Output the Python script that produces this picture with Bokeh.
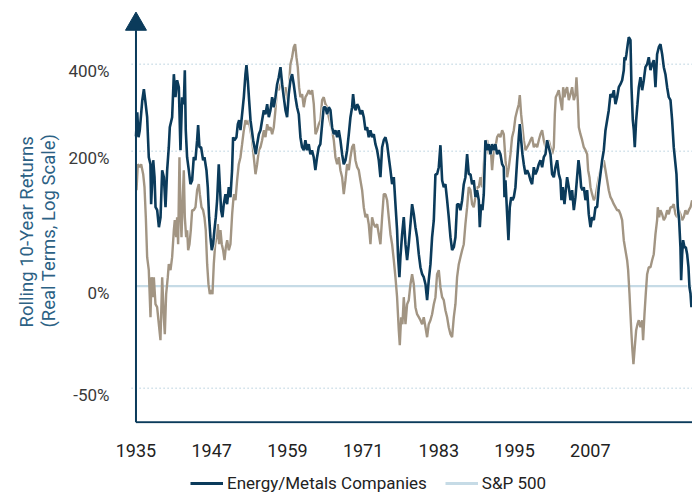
from bokeh.plotting import figure
from bokeh.layouts import column
from bokeh.models import FixedTicker, Legend, LegendItem, Title
from bokeh.embed import file_html
from bokeh.resources import INLINE

# ---- data: (year, position on the chart's log-return scale; 0 = 0% line) ----
energy_metals = [
    (1935.0,150),(1935.2,174),(1935.4,149),(1935.6,156),(1936.0,186),(1936.25,197),(1936.5,184),(1936.77,169),
    (1937.03,129),(1937.29,122),(1937.4,82),(1937.73,126),(1937.94,109),(1938.1,79),(1938.36,76),(1938.63,59),
    (1938.89,69),(1939.15,116),(1939.42,109),(1939.68,79),(1939.94,116),(1940.2,139),(1940.36,159),(1940.73,169),
    (1941.0,212),(1941.26,189),(1941.52,206),(1941.79,199),(1942.05,136),(1942.31,189),(1942.58,182),(1942.74,216),
    (1942.89,156),(1943.1,129),(1943.37,116),(1943.63,102),(1943.9,106),(1944.16,129),(1944.42,126),(1944.69,146),
    (1944.85,161),(1945.06,139),(1945.32,139),(1945.64,126),(1945.85,129),(1946.17,116),(1946.38,99),(1946.59,69),
    (1946.8,49),(1947.01,36),(1947.22,42),(1947.43,56),(1947.65,69),(1947.86,86),(1948.12,122),(1948.28,102),
    (1948.49,76),(1948.7,69),(1948.91,82),(1949.18,92),(1949.44,82),(1949.71,99),(1949.97,89),(1950.23,116),
    (1950.39,149),(1950.6,146),(1950.92,149),(1951.14,162),(1951.35,166),(1951.56,156),(1951.82,172),(1952.09,189),
    (1952.35,212),(1952.51,221),(1952.72,206),(1952.93,186),(1953.15,166),(1953.36,156),(1953.57,146),(1953.78,139),
    (1953.99,132),(1954.2,142),(1954.47,152),(1954.73,156),(1954.99,166),(1955.26,176),(1955.52,172),(1955.79,182),
    (1956.05,169),(1956.31,176),(1956.58,189),(1956.84,179),(1957.1,189),(1957.37,202),(1957.63,209),(1957.9,219),
    (1958.16,202),(1958.42,189),(1958.69,176),(1958.95,169),(1959.21,192),(1959.48,206),(1959.74,212),(1960.0,202),
    (1960.27,189),(1960.53,179),(1960.8,172),(1961.06,149),(1961.32,139),(1961.59,136),(1961.85,146),(1962.11,136),
    (1962.38,142),(1962.64,132),(1962.9,136),(1963.17,129),(1963.43,116),(1963.7,129),(1963.96,139),(1964.22,142),
    (1964.5,162),(1964.76,179),(1965.03,179),(1965.29,172),(1965.56,179),(1965.82,176),(1966.08,159),(1966.35,152),
    (1966.61,156),(1966.88,149),(1967.14,156),(1967.4,146),(1967.67,132),(1967.93,122),(1968.2,126),(1968.46,136),
    (1968.73,152),(1968.99,169),(1969.25,179),(1969.41,192),(1969.62,179),(1969.83,176),(1970.05,182),(1970.31,179),
    (1970.57,172),(1970.84,176),(1971.1,169),(1971.37,156),(1971.63,159),(1971.89,149),(1972.16,156),(1972.42,149),
    (1972.69,152),(1972.95,142),(1973.22,136),(1973.48,126),(1973.74,109),(1974.01,139),(1974.27,146),(1974.54,149),
    (1974.8,142),(1975.06,129),(1975.33,116),(1975.59,102),(1975.86,109),(1976.12,82),(1976.38,56),(1976.54,29),
    (1976.75,9),(1976.91,29),(1977.18,52),(1977.44,69),(1977.71,42),(1977.97,26),(1978.23,42),(1978.5,62),
    (1978.76,82),(1979.03,72),(1979.29,59),(1979.55,49),(1979.82,32),(1980.08,19),(1980.35,12),(1980.61,9),
    (1980.88,2),(1981.14,-14),(1981.4,6),(1981.67,22),(1981.93,49),(1982.2,66),(1982.46,112),(1982.72,112),
    (1982.99,119),(1983.25,141),(1983.52,106),(1983.78,99),(1984.04,102),(1984.31,86),(1984.57,69),(1984.84,49),
    (1985.1,36),(1985.37,39),(1985.63,49),(1985.89,82),(1986.16,82),(1986.42,76),(1986.69,86),(1986.95,102),
    (1987.21,109),(1987.48,132),(1987.74,112),(1988.01,112),(1988.27,102),(1988.53,106),(1988.8,89),(1989.06,96),
    (1989.33,86),(1989.49,59),(1989.7,82),(1989.91,76),(1990.12,92),(1990.38,146),(1990.65,136),(1990.91,142),
    (1991.18,132),(1991.44,142),(1991.7,136),(1991.97,142),(1992.23,132),(1992.5,136),(1992.76,132),(1993.03,122),
    (1993.29,119),(1993.4,89),(1993.56,106),(1993.82,72),(1994.03,46),(1994.24,79),(1994.46,89),(1994.67,86),
    (1994.88,89),(1995.14,99),(1995.41,126),(1995.67,149),(1995.83,162),(1996.04,146),(1996.25,132),(1996.46,122),
    (1996.73,112),(1996.99,116),(1997.26,112),(1997.52,106),(1997.78,102),(1998.05,119),(1998.31,112),(1998.58,116),
    (1998.84,122),(1999.1,126),(1999.37,119),(1999.63,129),(1999.9,132),(2000.16,146),(2000.42,139),(2000.69,132),
    (2000.95,112),(2001.22,109),(2001.48,119),(2001.75,126),(2002.01,112),(2002.27,106),(2002.43,86),(2002.64,99),
    (2002.91,82),(2003.12,96),(2003.33,109),(2003.59,99),(2003.86,86),(2004.12,96),(2004.39,76),(2004.65,89),
    (2004.91,109),(2005.13,126),(2005.34,116),(2005.55,99),(2005.76,96),(2005.97,99),(2006.24,86),(2006.5,96),
    (2006.76,72),(2007.03,59),(2007.29,69),(2007.56,66),(2007.82,79),(2008.08,79),(2008.35,99),(2008.61,112),
    (2008.88,126),(2009.14,136),(2009.41,156),(2009.67,166),(2009.93,176),(2010.2,192),(2010.46,189),(2010.73,196),
    (2010.99,182),(2011.25,189),(2011.52,199),(2011.78,202),(2012.05,206),(2012.31,216),(2012.42,229),(2012.57,226),
    (2012.73,232),(2012.94,242),(2013.1,249),(2013.37,246),(2013.53,199),(2013.74,166),(2013.9,156),(2014.05,139),
    (2014.27,166),(2014.48,182),(2014.69,199),(2014.95,209),(2015.22,196),(2015.48,206),(2015.74,219),(2016.01,222),
    (2016.27,229),(2016.54,216),(2016.8,222),(2017.06,226),(2017.33,199),(2017.59,232),(2017.86,239),(2018.12,242),
    (2018.39,232),(2018.65,219),(2018.91,212),(2019.18,199),(2019.44,189),(2019.71,186),(2019.97,166),(2020.23,139),
    (2020.5,122),(2020.66,112),(2020.87,79),(2021.08,66),(2021.29,39),(2021.4,6),(2021.56,32),(2021.71,46),
    (2021.93,39),(2022.14,39),(2022.35,32),(2022.56,19),(2022.72,-1),(2022.88,-7),(2023.03,-21),
]

sp500 = [
    (1935.08,96),(1935.29,122),(1935.61,119),(1935.82,122),(1936.14,112),(1936.35,99),(1936.56,69),(1936.77,29),
    (1937.03,16),(1937.3,-31),(1937.46,9),(1937.67,-11),(1937.83,9),(1938.09,-18),(1938.35,-21),(1938.62,-38),
    (1938.88,-54),(1939.15,9),(1939.41,-31),(1939.57,-48),(1939.78,-8),(1940.04,9),(1940.2,22),(1940.47,16),
    (1940.73,29),(1941.0,56),(1941.15,66),(1941.37,49),(1941.52,69),(1941.68,42),(1941.89,129),(1942.05,76),
    (1942.21,49),(1942.42,89),(1942.58,116),(1942.74,69),(1942.95,49),(1943.11,56),(1943.27,36),(1943.48,42),
    (1943.69,56),(1943.9,76),(1944.16,76),(1944.43,79),(1944.69,96),(1944.96,102),(1945.12,92),(1945.38,79),
    (1945.64,76),(1945.85,69),(1946.06,56),(1946.28,22),(1946.49,2),(1946.7,-8),(1946.91,-4),(1947.12,-8),
    (1947.33,22),(1947.55,42),(1947.76,49),(1947.97,62),(1948.18,42),(1948.39,56),(1948.6,42),(1948.81,36),
    (1949.03,26),(1949.24,39),(1949.45,46),(1949.71,36),(1949.97,42),(1950.24,72),(1950.5,92),(1950.77,86),
    (1951.03,106),(1951.29,122),(1951.56,129),(1951.82,142),(1952.09,156),(1952.35,166),(1952.62,162),(1952.88,166),
    (1953.14,156),(1953.41,146),(1953.67,129),(1953.94,112),(1954.2,122),(1954.47,136),(1954.73,139),(1954.99,146),
    (1955.26,156),(1955.52,149),(1955.79,162),(1956.05,156),(1956.31,159),(1956.58,152),(1956.84,159),(1957.1,176),
    (1957.37,199),(1957.63,196),(1957.9,202),(1958.16,206),(1958.42,189),(1958.69,199),(1958.95,186),(1959.21,196),
    (1959.48,222),(1959.74,229),(1960.0,239),(1960.22,242),(1960.43,229),(1960.64,219),(1960.85,199),(1961.06,189),
    (1961.33,192),(1961.59,179),(1961.86,189),(1962.13,192),(1962.39,196),(1962.65,192),(1962.92,196),(1963.18,182),
    (1963.45,152),(1963.71,156),(1963.97,162),(1964.24,166),(1964.5,186),(1964.76,189),(1965.03,182),(1965.29,179),
    (1965.56,169),(1965.82,162),(1966.08,156),(1966.35,146),(1966.61,129),(1966.88,122),(1967.14,129),(1967.4,116),
    (1967.67,109),(1967.93,92),(1968.2,106),(1968.46,122),(1968.73,116),(1968.99,129),(1969.25,139),(1969.52,142),
    (1969.78,126),(1970.05,119),(1970.31,116),(1970.57,106),(1970.84,96),(1971.1,79),(1971.37,69),(1971.63,72),
    (1971.89,62),(1972.16,42),(1972.42,69),(1972.69,62),(1972.95,59),(1973.22,62),(1973.48,52),(1973.74,42),
    (1974.01,69),(1974.27,92),(1974.54,92),(1974.8,86),(1975.06,69),(1975.33,52),(1975.59,42),(1975.86,26),
    (1976.12,9),(1976.38,-11),(1976.65,-44),(1976.81,-59),(1977.02,-31),(1977.23,-38),(1977.44,-11),(1977.71,-38),
    (1977.97,-18),(1978.23,-14),(1978.5,2),(1978.76,12),(1979.03,2),(1979.29,-21),(1979.55,-28),(1979.82,-31),
    (1980.08,-34),(1980.35,-38),(1980.61,-31),(1980.88,-41),(1981.14,-51),(1981.4,-38),(1981.67,-34),(1981.93,-28),
    (1982.2,-18),(1982.46,-11),(1982.72,12),(1982.99,16),(1983.25,-1),(1983.52,-11),(1983.78,-14),(1984.04,-24),
    (1984.31,-31),(1984.57,-41),(1984.84,-48),(1985.1,-51),(1985.37,-31),(1985.63,-18),(1985.89,9),(1986.16,22),
    (1986.42,29),(1986.69,36),(1986.95,42),(1987.21,62),(1987.48,79),(1987.74,99),(1988.01,96),(1988.27,82),
    (1988.53,79),(1988.8,89),(1989.06,99),(1989.33,99),(1989.59,109),(1989.86,99),(1990.12,122),(1990.38,142),
    (1990.65,146),(1990.91,132),(1991.18,142),(1991.44,116),(1991.7,136),(1991.97,139),(1992.23,149),(1992.5,152),
    (1992.76,149),(1993.03,156),(1993.29,152),(1993.56,126),(1993.82,109),(1994.09,119),(1994.35,132),(1994.61,149),
    (1994.88,156),(1995.14,169),(1995.41,176),(1995.67,182),(1995.83,191),(1996.04,172),(1996.25,159),(1996.46,146),
    (1996.73,136),(1996.99,139),(1997.26,142),(1997.52,146),(1997.78,149),(1998.05,139),(1998.31,142),(1998.58,139),
    (1998.84,146),(1999.1,152),(1999.37,156),(1999.63,146),(1999.9,139),(2000.16,142),(2000.42,146),(2000.69,139),
    (2000.95,132),(2001.22,139),(2001.38,172),(2001.53,189),(2001.75,192),(2002.01,196),(2002.27,186),(2002.54,176),
    (2002.7,199),(2002.91,189),(2003.12,196),(2003.33,199),(2003.59,186),(2003.86,192),(2004.12,199),(2004.39,186),
    (2004.65,192),(2004.81,209),(2005.02,186),(2005.18,159),(2005.44,152),(2005.71,146),(2005.97,139),(2006.24,136),
    (2006.5,132),(2006.66,116),(2006.87,109),(2007.03,99),(2007.29,92),(2007.56,86),(2007.82,89),(2008.08,99),
    (2008.35,109),(2008.61,116),(2008.88,119),(2009.14,126),(2009.41,116),(2009.67,106),(2009.93,96),(2010.2,89),
    (2010.46,86),(2010.73,82),(2010.99,79),(2011.25,76),(2011.52,76),(2011.78,72),(2012.05,66),(2012.31,46),
    (2012.57,36),(2012.84,26),(2013.0,16),(2013.21,-7),(2013.37,-28),(2013.53,-48),(2013.68,-64),(2013.84,-78),
    (2014.05,-61),(2014.27,-44),(2014.48,-38),(2014.69,-34),(2014.95,-41),(2015.22,-34),(2015.37,-54),(2015.59,-28),
    (2015.8,-7),(2016.01,12),(2016.27,19),(2016.54,19),(2016.8,26),(2017.06,32),(2017.33,52),(2017.59,66),
    (2017.7,79),(2017.91,69),(2018.12,76),(2018.39,72),(2018.65,66),(2018.91,69),(2019.18,76),(2019.44,72),
    (2019.71,79),(2019.97,79),(2020.23,82),(2020.5,72),(2020.76,69),(2021.03,76),(2021.29,72),(2021.56,66),
    (2021.82,69),(2022.08,76),(2022.35,72),(2022.61,76),(2022.88,79),(2023.14,86),
]

x_ticks = [1935, 1947, 1959, 1971, 1983, 1995, 2007]
y_levels = [-102, 0, 135, 222]          # scale positions of -50%, 0%, 200%, 400%
y_labels = ["-50%", "0%", "200%", "400%"]
series_names = ["Energy/Metals Companies", "S&P 500"]
y_title = "Rolling 10-Year Returns\n(Real Terms, Log Scale)"

# ---- styling ----
NAVY = "#0b3b5b"
TAN = "#a29583"
LIGHT = "#c6dbe6"
GRIDC = "#b4cedc"
TITLEC = "#2c6184"
FONT = "Roboto"
W = 692

X0, X1 = 1933.18, 2023.2
Y0, Y1 = -137.3, 285.7
AXIS_Y = -136
AXIS_X = x_ticks[0]

p = figure(width=W, height=463, output_backend="svg", toolbar_location=None,
           x_range=(X0, X1), y_range=(Y0, Y1),
           min_border_left=124, min_border_right=0, min_border_top=0, min_border_bottom=40)
p.outline_line_color = None
p.xgrid.visible = False
p.ygrid.visible = False

# dotted grid lines and solid zero line
for lv in y_levels:
    if lv == 0:
        p.segment(x0=[AXIS_X], y0=[lv], x1=[X1], y1=[lv], line_color=LIGHT, line_width=2.2)
    else:
        p.segment(x0=[AXIS_X - 0.7], y0=[lv], x1=[X1], y1=[lv], line_color=GRIDC,
                  line_width=1.5, line_dash="1 3")

ex = [d[0] for d in energy_metals]
ey = [d[1] for d in energy_metals]
sx = [d[0] for d in sp500]
sy = [d[1] for d in sp500]

p.line(sx, sy, line_color=TAN, line_width=2.4)
p.line(ex, ey, line_color="white", line_width=4.2, line_alpha=0.8)
p.line(ex, ey, line_color=NAVY, line_width=2.6)

# axes drawn as lines with an arrow head on top of the vertical one
p.segment(x0=[AXIS_X], y0=[AXIS_Y], x1=[AXIS_X], y1=[256], line_color=NAVY, line_width=2)
p.segment(x0=[AXIS_X], y0=[AXIS_Y], x1=[X1], y1=[AXIS_Y], line_color=NAVY, line_width=2)
p.scatter(x=[AXIS_X], y=[262], marker="triangle", size=21, fill_color=NAVY, line_color=NAVY)

# y axis (labels hang just below their grid lines)
LABEL_DROP = 7
yt = [lv - LABEL_DROP for lv in y_levels]
p.yaxis.ticker = FixedTicker(ticks=yt)
p.yaxis.major_label_overrides = {t: l for t, l in zip(yt, y_labels)}
p.yaxis.axis_line_color = None
p.yaxis.major_tick_line_color = None
p.yaxis.minor_tick_line_color = None
p.yaxis.major_label_standoff = 9
p.yaxis.major_label_text_font = FONT
p.yaxis.major_label_text_font_size = "17px"
p.yaxis.major_label_text_color = "#3a3a3a"

# y title: starts 96 px above the frame bottom, reading upwards
ytitle = Title(text=y_title, align="left", offset=96, standoff=12,
               text_font=FONT, text_font_size="18.5px", text_font_style="normal",
               text_color=TITLEC)
p.add_layout(ytitle, "left")

# x axis
p.xaxis.ticker = FixedTicker(ticks=x_ticks)
p.xaxis.axis_line_color = None
p.xaxis.major_tick_line_color = None
p.xaxis.minor_tick_line_color = None
p.xaxis.major_label_standoff = 14
p.xaxis.major_label_text_font = FONT
p.xaxis.major_label_text_font_size = "18px"
p.xaxis.major_label_text_color = "#222222"

# legend strip underneath (same series, drawn out of view so only the key shows)
q = figure(width=W, height=31, output_backend="svg", toolbar_location=None,
           x_range=(X0, X1), y_range=(1000, 1001), x_axis_location=None, y_axis_location=None,
           min_border=0)
q.outline_line_color = None
q.xgrid.visible = False
q.ygrid.visible = False
k1 = q.line(ex, ey, line_color=NAVY, line_width=3)
k2 = q.line(sx, sy, line_color=LIGHT, line_width=3)
legend = Legend(items=[LegendItem(label=series_names[0], renderers=[k1]),
                       LegendItem(label=series_names[1], renderers=[k2])],
                orientation="horizontal", location=(66, 1),
                padding=0, margin=0, spacing=18, glyph_width=33, glyph_height=20,
                label_height=20, label_standoff=4, label_text_font=FONT,
                label_text_font_size="17px", label_text_color="#222222",
                border_line_color=None, background_fill_alpha=0)
q.add_layout(legend)

layout = column(p, q, spacing=0)
open("out.html", "w").write(file_html(layout, INLINE))
